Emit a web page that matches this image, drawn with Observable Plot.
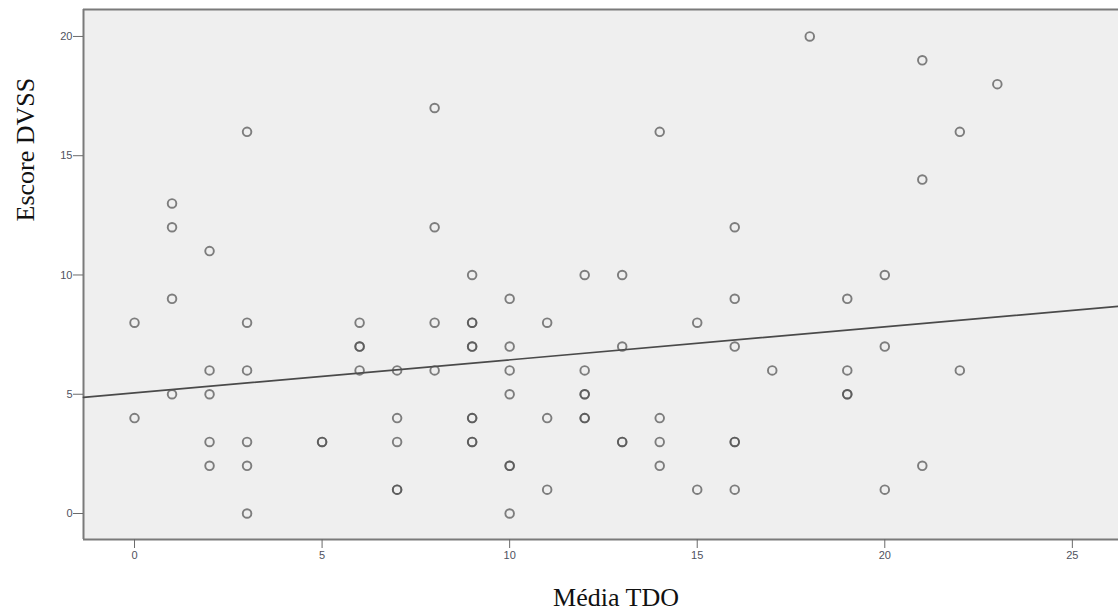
<!DOCTYPE html>
<html>
<head>
<meta charset="utf-8">
<script src="https://cdn.jsdelivr.net/npm/d3@7"></script>
<script src="https://cdn.jsdelivr.net/npm/@observablehq/plot@0.6"></script>
<style>
  html, body { margin: 0; padding: 0; background: #fff; }
  #chart svg { display: block; }
</style>
</head>
<body>
<div id="chart"></div>
<script>
// Média TDO (x) and Escore DVSS (y), one entry per respondent (overlapping points repeated)
const tdo  = [0,0, 1,1,1,1, 2,2,2,2,2, 3,3,3,3,3,3, 5,5, 6,6,6,6, 7,7,7,7,7, 8,8,8,8,
              9,9,9,9,9,9,9,9,9, 10,10,10,10,10,10,10, 11,11,11, 12,12,12,12,12,12,
              13,13,13,13, 14,14,14,14, 15,15, 16,16,16,16,16,16, 17, 18, 19,19,19,19,
              20,20,20, 21,21,21, 22,22, 23];
const dvss = [8,4, 13,12,9,5, 11,6,5,3,2, 16,8,6,3,2,0, 3,3, 8,7,7,6, 6,4,3,1,1, 17,12,8,6,
              10,8,8,7,7,4,4,3,3, 9,7,6,5,2,2,0, 8,4,1, 10,6,5,5,4,4,
              10,7,3,3, 16,4,3,2, 8,1, 12,9,7,3,3,1, 6, 20, 9,6,5,5,
              10,7,1, 19,14,2, 16,6, 18];
const xTicks = [0, 5, 10, 15, 20, 25];
const yTicks = [0, 5, 10, 15, 20];
const xDomain = [-1.36, 26.23];
const yDomain = [-1.09, 21.13];
const xTitle = "Média TDO";
const yTitle = "Escore DVSS";

const points = tdo.map((x, i) => ({x, y: dvss[i]}));

// least-squares fit line
const mx = d3.mean(tdo), my = d3.mean(dvss);
const sxy = d3.sum(tdo, (x, i) => (x - mx) * (dvss[i] - my));
const sxx = d3.sum(tdo, x => (x - mx) ** 2);
const slope = sxy / sxx;
const intercept = my - slope * mx;
const fit = xDomain.map(x => ({x, y: intercept + slope * x}));

const serif = "'Liberation Serif', 'Times New Roman', serif";
const sans = "Arial, 'Liberation Sans', sans-serif";

const chart = Plot.plot({
  width: 1118,
  height: 615,
  marginLeft: 83,
  marginRight: 0,
  marginTop: 9,
  marginBottom: 76,
  style: {background: "#fff", fontFamily: sans, fontSize: "11px"},
  x: {domain: xDomain},
  y: {domain: yDomain},
  marks: [
    Plot.frame({fill: "#efefef", stroke: null}),
    Plot.ruleX([xDomain[0]], {stroke: "#7a7a7a", strokeWidth: 2}),
    Plot.ruleY([yDomain[0], yDomain[1]], {stroke: "#7a7a7a", strokeWidth: 2}),
    Plot.axisX({ticks: xTicks, tickSize: 9, tickPadding: 3, label: null, stroke: "#6a6a6a", fill: "#4f5260", fontSize: 11}),
    Plot.axisY({ticks: yTicks, tickSize: 10, tickPadding: 1, label: null, stroke: "#6a6a6a", fill: "#4f5260", fontSize: 11}),
    Plot.line(fit, {x: "x", y: "y", stroke: "#4a4a4a", strokeWidth: 1.7}),
    Plot.dot(points, {x: "x", y: "y", r: 4.3, fill: "none", stroke: "#505050", strokeWidth: 1.9, strokeOpacity: 0.72}),
    Plot.text([xTitle], {frameAnchor: "bottom", dx: 15, dy: 66, fontSize: 26, fontFamily: serif, fill: "#111", text: d => d}),
    Plot.text([yTitle], {frameAnchor: "left", dx: -58, dy: -53, rotate: -90, fontSize: 26, fontFamily: serif, fill: "#111", text: d => d})
  ]
});
document.getElementById("chart").appendChild(chart);
</script>
</body>
</html>
